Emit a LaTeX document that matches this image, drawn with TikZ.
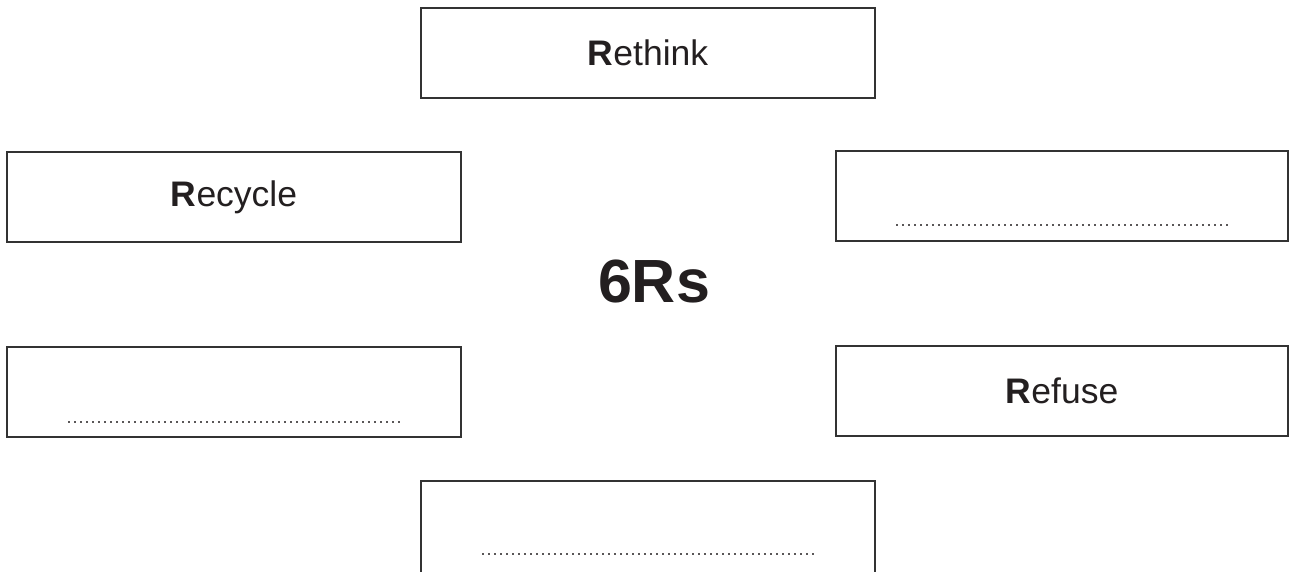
\documentclass[tikz,border=0pt]{standalone}
\usepackage{fontspec}
\setmainfont{Liberation Sans}
\definecolor{ink}{HTML}{231F20}
\definecolor{edge}{HTML}{333333}
\tikzset{
  rbox/.style={draw=edge, line width=1.3pt, rectangle, minimum width=454pt, minimum height=90pt, inner sep=0pt, text=ink, font=\fontsize{35.5}{42}\selectfont},
  answerline/.style={draw=ink!75, line width=1.8pt, dash pattern=on 1.8pt off 4.2pt},
  title/.style={text=ink, font=\fontsize{61}{70}\selectfont\bfseries, inner sep=0pt}
}
\begin{document}
\begin{tikzpicture}[x=1pt,y=-1pt]
\useasboundingbox (0,0) rectangle (1290,571);
\clip (0,0) rectangle (1290,571);
\fill[white] (0,0) rectangle (1290,571);
\node[rbox] (rethink) at (648,53) {\textbf{R}ethink};
\node[rbox] (recycle) at (234,197) {\textbf{R}ecycle};
\node[rbox, minimum width=452pt] (blankA) at (1062,196) {};
\node[title] (six) at (654,281) {6Rs};
\node[rbox] (blankB) at (234,392) {};
\node[rbox, minimum width=452pt] (refuse) at (1062,391) {\textbf{R}efuse};
\node[rbox, minimum height=92pt] (blankC) at (648,527) {};
\draw[answerline] ([xshift=-166pt,yshift=17pt]blankA.south) -- ([xshift=166pt,yshift=17pt]blankA.south);
\draw[answerline] ([xshift=-166pt,yshift=16pt]blankB.south) -- ([xshift=166pt,yshift=16pt]blankB.south);
\draw[answerline] ([xshift=-166pt,yshift=-74pt]blankC.north) -- ([xshift=166pt,yshift=-74pt]blankC.north);
\end{tikzpicture}
\end{document}
